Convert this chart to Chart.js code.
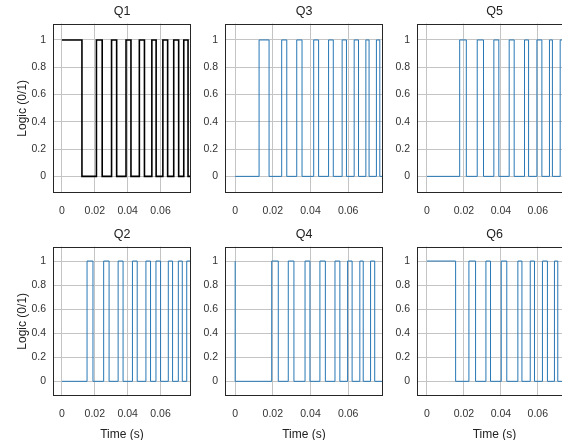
<!DOCTYPE html>
<html>
<head>
<meta charset="utf-8">
<script src="https://cdn.jsdelivr.net/npm/chart.js@4"></script>
<style>
  html, body { margin: 0; padding: 0; background: #fff; overflow: hidden; }
  body { width: 562px; height: 440px; position: relative; }
  canvas { position: absolute; }
</style>
</head>
<body>
<script>
const xTicks = [0, 0.02, 0.04, 0.06];
const xTickLabels = ['0', '0.02', '0.04', '0.06'];
const yTicks = [0, 0.2, 0.4, 0.6, 0.8, 1];
const yTickLabels = ['0', '0.2', '0.4', '0.6', '0.8', '1'];

// switching instants (s) and the gate state from that instant on
const q1Times  = [0, 0.0122, 0.0210, 0.0245, 0.0302, 0.0333, 0.0390, 0.0420, 0.0471, 0.0502, 0.0547, 0.0573, 0.0614, 0.0643, 0.0680, 0.0710, 0.0741, 0.0767, 0.078];
const q1States = [1, 0, 1, 0, 1, 0, 1, 0, 1, 0, 1, 0, 1, 0, 1, 0, 1, 0, 0];

const q2Times  = [0, 0.0153, 0.0189, 0.0254, 0.0287, 0.0342, 0.0372, 0.0429, 0.0458, 0.0511, 0.0539, 0.0572, 0.0600, 0.0647, 0.0673, 0.0708, 0.0732, 0.0759, 0.078];
const q2States = [0, 1, 0, 1, 0, 1, 0, 1, 0, 1, 0, 1, 0, 1, 0, 1, 0, 1, 1];

const q3Times  = [0, 0.0127, 0.0180, 0.0247, 0.0274, 0.0327, 0.0355, 0.0417, 0.0443, 0.0496, 0.0521, 0.0568, 0.0591, 0.0632, 0.0655, 0.0694, 0.0711, 0.0750, 0.0768, 0.078];
const q3States = [0, 1, 0, 1, 0, 1, 0, 1, 0, 1, 0, 1, 0, 1, 0, 1, 0, 1, 0, 0];

const q4Times  = [0, 0, 0.0194, 0.0229, 0.0282, 0.0312, 0.0371, 0.0397, 0.0450, 0.0479, 0.0530, 0.0556, 0.0597, 0.0621, 0.0662, 0.0680, 0.0719, 0.0741, 0.078];
const q4States = [1, 0, 1, 0, 1, 0, 1, 0, 1, 0, 1, 0, 1, 0, 1, 0, 1, 0, 0];

const q5Times  = [0, 0.0177, 0.0213, 0.0272, 0.0306, 0.0362, 0.0389, 0.0445, 0.0472, 0.0528, 0.0550, 0.0595, 0.0622, 0.0663, 0.0679, 0.0721, 0.0740, 0.078];
const q5States = [0, 1, 0, 1, 0, 1, 0, 1, 0, 1, 0, 1, 0, 1, 0, 1, 0, 0];

const q6Times  = [0, 0.0155, 0.0227, 0.0263, 0.0319, 0.0344, 0.0402, 0.0432, 0.0492, 0.0514, 0.0559, 0.0582, 0.0625, 0.0652, 0.0690, 0.0708, 0.0742, 0.0758, 0.078];
const q6States = [1, 0, 1, 0, 1, 0, 1, 0, 1, 0, 1, 0, 1, 0, 1, 0, 1, 0, 0];

const xMin = -0.0054, xMax = 0.0785;
const yMin = -0.122, yMax = 1.12;

const FONT = 'Liberation Sans, Arial, sans-serif';
const BLUE = '#2878b5';

// plot boxes in page pixels: left, top, right, bottom
const panels = [
  { name: 'Q1', times: q1Times, states: q1States, color: '#000', lw: 1.6, box: [53, 23, 191, 193], yTitle: true,  xTitle: false },
  { name: 'Q3', times: q3Times, states: q3States, color: BLUE,   lw: 1,   box: [225, 23, 383, 193], yTitle: false, xTitle: false },
  { name: 'Q5', times: q5Times, states: q5States, color: BLUE,   lw: 1,   box: [417, 23, 572, 193], yTitle: false, xTitle: false },
  { name: 'Q2', times: q2Times, states: q2States, color: BLUE,   lw: 1,   box: [53, 246, 191, 396], yTitle: true,  xTitle: true },
  { name: 'Q4', times: q4Times, states: q4States, color: BLUE,   lw: 1,   box: [225, 246, 383, 396], yTitle: false, xTitle: true },
  { name: 'Q6', times: q6Times, states: q6States, color: BLUE,   lw: 1,   box: [417, 246, 572, 396], yTitle: false, xTitle: true }
];

// the full axes box, drawn over grid and traces
const boxPlugin = {
  id: 'box',
  afterDraw(chart) {
    const { ctx, chartArea: a } = chart;
    ctx.save();
    ctx.strokeStyle = '#262626';
    ctx.lineWidth = 1;
    const l = Math.round(a.left) + 0.5, t = Math.round(a.top) + 0.5;
    ctx.strokeRect(l, t, Math.round(a.right - a.left) - 1, Math.round(a.bottom - a.top) - 1);
    ctx.restore();
  }
};

const TITLE_H = 20;

panels.forEach(p => {
  const [L, T, R, B] = p.box;
  const yW = p.yTitle ? L : 32;
  const xH = p.xTitle ? 46 : 22;
  const padR = 10;
  const canvas = document.createElement('canvas');
  canvas.width = yW + (R - L) + padR;
  canvas.height = TITLE_H + (B - T) + xH;
  canvas.style.left = (L - yW) + 'px';
  canvas.style.top = (T - TITLE_H) + 'px';
  document.body.appendChild(canvas);

  new Chart(canvas, {
    type: 'line',
    data: {
      datasets: [{
        data: p.times.map((t, i) => ({ x: t, y: p.states[i] })),
        borderColor: p.color,
        borderWidth: p.lw,
        stepped: true,
        pointRadius: 0,
        fill: false
      }]
    },
    options: {
      responsive: false,
      animation: false,
      devicePixelRatio: 1,
      layout: { padding: { left: 0, top: 0, right: padR, bottom: 0 } },
      plugins: {
        legend: { display: false },
        tooltip: { enabled: false },
        title: {
          display: true, text: p.name, color: '#222', fullSize: false,
          font: { family: FONT, size: 12.5, weight: 'normal' },
          padding: { top: 1.3, bottom: 4.3 }
        }
      },
      scales: {
        x: {
          type: 'linear', min: xMin, max: xMax,
          afterBuildTicks: s => { s.ticks = xTicks.map(v => ({ value: v })); },
          afterFit: s => { s.height = xH; },
          ticks: {
            callback: (v, i) => xTickLabels[i], color: '#333',
            font: { family: FONT, size: 10.5 }, padding: 12, maxRotation: 0, autoSkip: false
          },
          grid: { color: '#c4c4c4', drawTicks: false },
          border: { display: false },
          title: {
            display: p.xTitle, text: 'Time (s)', color: '#222',
            font: { family: FONT, size: 12 }, padding: { top: 0, bottom: 0 }
          }
        },
        y: {
          min: yMin, max: yMax,
          afterBuildTicks: s => { s.ticks = yTicks.map(v => ({ value: v })); },
          afterFit: s => { s.width = yW; },
          ticks: {
            callback: (v, i) => yTickLabels[i], color: '#333',
            font: { family: FONT, size: 10.5 }, padding: 7
          },
          grid: { color: '#c4c4c4', drawTicks: false },
          border: { display: false },
          title: {
            display: p.yTitle, text: 'Logic (0/1)', color: '#222',
            font: { family: FONT, size: 12 }, padding: { top: 15, bottom: 0 }
          }
        }
      }
    },
    plugins: [boxPlugin]
  });
});
</script>
</body>
</html>
